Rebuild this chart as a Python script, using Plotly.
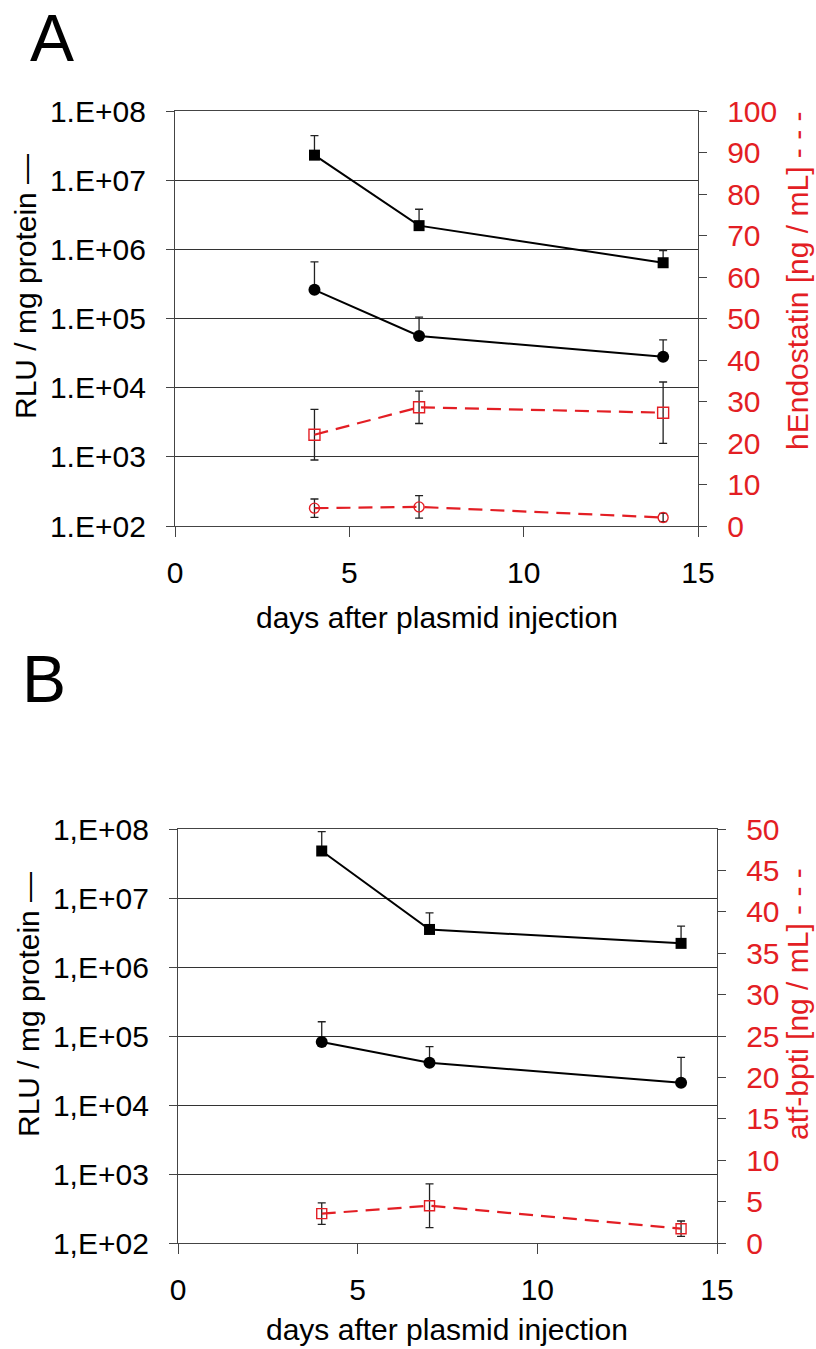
import plotly.graph_objects as go

# ---------------- data ----------------
days = [4, 7, 14]

# Panel A (left log axis: RLU / mg protein ; right axis: hEndostatin ng/mL)
A_lum_sq = [2.3e7, 2.2e6, 6.4e5]
A_lum_sq_err = [2.1e7, 1.6e6, 3.2e5]
A_lum_ci = [2.6e5, 5.6e4, 2.8e4]
A_lum_ci_err = [4.0e5, 4.9e4, 2.1e4]
A_endo_sq = [22.0, 28.6, 27.3]
A_endo_sq_err = [6.1, 3.9, 7.4]
A_endo_ci = [4.3, 4.6, 2.05]
A_endo_ci_err = [2.2, 2.7, 1.0]

# Panel B (left log axis: RLU / mg protein ; right axis: atf-bpti ng/mL)
B_lum_sq = [4.8e7, 3.5e6, 2.2e6]
B_lum_sq_err = [4.35e7, 2.6e6, 1.7e6]
B_lum_ci = [8.2e4, 4.1e4, 2.1e4]
B_lum_ci_err = [7.9e4, 2.9e4, 2.8e4]
B_atf_sq = [3.55, 4.5, 1.73]
B_atf_sq_err = [1.3, 2.65, 0.93]

log_ticks = [1e2, 1e3, 1e4, 1e5, 1e6, 1e7, 1e8]
A_log_labels = ["1.E+02", "1.E+03", "1.E+04", "1.E+05", "1.E+06", "1.E+07", "1.E+08"]
B_log_labels = ["1,E+02", "1,E+03", "1,E+04", "1,E+05", "1,E+06", "1,E+07", "1,E+08"]
x_ticks = [0, 5, 10, 15]

# ---------------- style ----------------
W, H = 816, 1349
RED = "#e31e24"
AX = "#444444"
FONT = "Liberation Sans, Arial, sans-serif"


def px_x(p):
    return p / W


def px_y(p):
    return 1 - p / H


def black_trace(x, y, err, symbol, size, xa, ya):
    return go.Scatter(
        x=x, y=y, xaxis=xa, yaxis=ya, mode="lines+markers",
        line=dict(color="black", width=2),
        marker=dict(symbol=symbol, size=size, color="black"),
        error_y=dict(type="data", symmetric=False, array=err, arrayminus=[0] * len(err),
                     color="#222222", thickness=1.3, width=4),
        showlegend=False, hoverinfo="skip",
    )


def red_trace(x, y, err, symbol, size, xa, ya):
    return go.Scatter(
        x=x, y=y, xaxis=xa, yaxis=ya, mode="lines+markers",
        line=dict(color=RED, width=2.2, dash="14px,8px"),
        marker=dict(symbol=symbol, size=size, color=RED,
                    line=dict(color=RED, width=1.4)),
        error_y=dict(type="data", array=err, color="#222222", thickness=1.3, width=4),
        showlegend=False, hoverinfo="skip",
    )


fig = go.Figure()
# Panel A
fig.add_trace(black_trace(days, A_lum_sq, A_lum_sq_err, "square", 11, "x", "y"))
fig.add_trace(black_trace(days, A_lum_ci, A_lum_ci_err, "circle", 12, "x", "y"))
fig.add_trace(red_trace(days, A_endo_sq, A_endo_sq_err, "square-open", 11, "x", "y2"))
fig.add_trace(red_trace(days, A_endo_ci, A_endo_ci_err, "circle-open", 10, "x", "y2"))
# Panel B
fig.add_trace(black_trace(days, B_lum_sq, B_lum_sq_err, "square", 11, "x2", "y3"))
fig.add_trace(black_trace(days, B_lum_ci, B_lum_ci_err, "circle", 12, "x2", "y3"))
fig.add_trace(red_trace(days, B_atf_sq, B_atf_sq_err, "square-open", 10, "x2", "y4"))

common_axis = dict(showline=True, linecolor=AX, linewidth=1.3, zeroline=False,
                   ticks="outside", tickcolor=AX, tickwidth=1.3, automargin=False)

xa = dict(range=[0, 15], tickvals=x_ticks, ticklen=10, showgrid=False, mirror=True,
          tickfont=dict(size=30, color="black"), ticklabelstandoff=10, **common_axis)

yl = dict(type="log", range=[2, 8], tickvals=log_ticks, ticklen=8, showgrid=True,
          gridcolor="#333333", gridwidth=1.3, tickfont=dict(size=30, color="black"),
          ticklabelstandoff=14, **common_axis)

yr = dict(side="right", showgrid=False, ticklen=8, tick0=0,
          tickfont=dict(size=30, color=RED), ticklabelstandoff=14, **common_axis)

A_top, A_bot = 111, 526
B_top, B_bot = 829, 1243

fig.update_layout(
    width=W, height=H, margin=dict(l=0, r=0, t=0, b=0),
    paper_bgcolor="white", plot_bgcolor="white", showlegend=False,
    font=dict(family=FONT, size=30, color="black"),
    xaxis=dict(domain=[px_x(175), px_x(698)], anchor="y", **xa),
    yaxis=dict(domain=[px_y(A_bot), px_y(A_top)], anchor="x", ticktext=A_log_labels, **yl),
    yaxis2=dict(overlaying="y", anchor="x", range=[0, 100], dtick=10, **yr),
    xaxis2=dict(domain=[px_x(178), px_x(717)], anchor="y3", **xa),
    yaxis3=dict(domain=[px_y(B_bot), px_y(B_top)], anchor="x2", ticktext=B_log_labels, **yl),
    yaxis4=dict(overlaying="y3", anchor="x2", range=[0, 50], dtick=5, **yr),
)

ann = [
    dict(text="A", x=px_x(52), y=px_y(38), font=dict(size=66, color="black")),
    dict(text="B", x=px_x(44), y=px_y(679), font=dict(size=66, color="black")),
    dict(text="days after plasmid injection", x=px_x(437), y=px_y(617),
         font=dict(size=30, color="black")),
    dict(text="days after plasmid injection", x=px_x(447), y=px_y(1329),
         font=dict(size=30, color="black")),
    dict(text="RLU / mg protein —", x=px_x(25), y=px_y(287), textangle=-90,
         font=dict(size=30, color="black")),
    dict(text="RLU / mg protein —", x=px_x(28), y=px_y(1005), textangle=-90,
         font=dict(size=30, color="black")),
    dict(text="hEndostatin [ng / mL] - - -", x=px_x(797), y=px_y(281), textangle=-90,
         font=dict(size=30, color=RED)),
    dict(text="atf-bpti [ng / mL] - - -", x=px_x(797), y=px_y(1004), textangle=-90,
         font=dict(size=30, color=RED)),
]
for a in ann:
    a.update(xref="paper", yref="paper", showarrow=False, xanchor="center", yanchor="middle")
fig.update_layout(annotations=ann)

fig.write_html("out.html")
